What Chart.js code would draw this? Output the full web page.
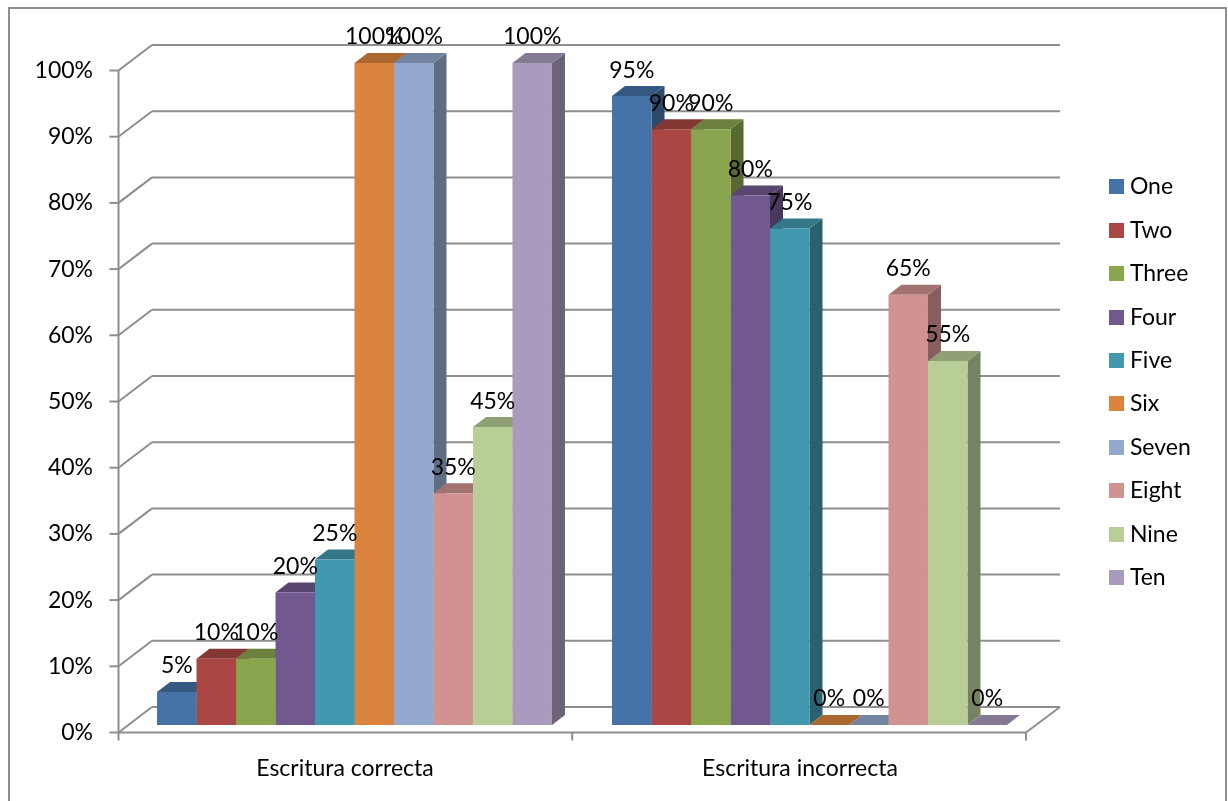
<!DOCTYPE html>
<html>
<head>
<meta charset="utf-8">
<title>Escritura</title>
<script src="https://cdn.jsdelivr.net/npm/chart.js@4/dist/chart.umd.min.js"></script>
<style>
    html, body { margin: 0; background: #fff; overflow: hidden; }
    canvas { display: block; }
</style>
</head>
<body>
<canvas id="myChart" width="1228" height="801"></canvas>
<script>
const categories = ["Escritura correcta", "Escritura incorrecta"]
const seriesNames = ["One", "Two", "Three", "Four", "Five", "Six", "Seven", "Eight", "Nine", "Ten"]
const colors = ["#4572A7", "#AA4643", "#89A54E", "#71588F", "#4198AF", "#DB843D", "#93A9CF", "#D19392", "#B9CD96", "#A99BBD"]
const correcta = [5, 10, 10, 20, 25, 100, 100, 35, 45, 100]
const incorrecta = [95, 90, 90, 80, 75, 0, 0, 65, 55, 0]

const fontName = "Lato, sans-serif"
const gridColor = "#8E8E8E"
const barDepth = {x: 13, y: 10}

// multiply a hex colour to get the shaded faces of the bars
const shade = (hex, k) => {
    const n = parseInt(hex.slice(1), 16)
    const part = (s) => Math.round(((n >> s) & 255) * k)
    return `rgb(${part(16)},${part(8)},${part(0)})`
}

const swatches = colors.map((c) => {
    const box = document.createElement("canvas")
    box.width = 15
    box.height = 15
    const g = box.getContext("2d")
    g.fillStyle = c
    g.fillRect(0, 0, 15, 15)
    return box
})

const line = (ctx, x1, y1, x2, y2) => {
    ctx.beginPath()
    ctx.moveTo(x1, y1)
    ctx.lineTo(x2, y2)
    ctx.stroke()
}

const quad = (ctx, pts, color) => {
    ctx.fillStyle = color
    ctx.beginPath()
    pts.forEach((p, i) => i ? ctx.lineTo(p[0], p[1]) : ctx.moveTo(p[0], p[1]))
    ctx.closePath()
    ctx.fill()
}

// frame, walls, floor and the depth faces of the bars
const box3d = {
    id: "box3d",
    afterLayout(chart) {
        const legend = chart.legend
        const w = legend.width, h = legend.height
        legend.left = 1094
        legend.right = 1094 + w
        legend.top = 155
        legend.bottom = 155 + h
    },
    beforeDatasetsDraw(chart) {
        const {ctx, chartArea: area, scales: {y}} = chart
        const frontL = area.left - 8.5, frontR = area.right - 11
        const backL = area.left + 25, backR = area.right + 23

        ctx.save()
        ctx.strokeStyle = gridColor
        ctx.lineWidth = 2
        ctx.strokeRect(9, 8, 1217, 820)

        y.ticks.forEach((t) => {
            const front = y.getPixelForValue(t.value) + 7.5
            const back = y.getPixelForValue(t.value) - 18
            line(ctx, frontL - 9, front, frontL, front)
            line(ctx, frontL, front, backL, back)
            line(ctx, backL, back, backR, back)
        })
        const floorF = y.getPixelForValue(0) + 7.5, floorB = y.getPixelForValue(0) - 18
        line(ctx, frontL, y.getPixelForValue(100) + 7.5, frontL, floorF + 8)
        line(ctx, frontL, floorF, frontR, floorF)
        line(ctx, frontR, floorF, backR, floorB)
        line(ctx, frontR, floorF, frontR, floorF + 8)
        line(ctx, (frontL + frontR) / 2, floorF, (frontL + frontR) / 2, floorF + 8)

        const {x: dx, y: dy} = barDepth
        categories.forEach((_, c) => {
            chart.data.datasets.forEach((d, i) => {
                const bar = chart.getDatasetMeta(i).data[c]
                const l = bar.x - bar.width / 2, r = bar.x + bar.width / 2
                const top = bar.y, base = bar.base
                quad(ctx, [[r, top], [r + dx, top - dy], [r + dx, base - dy], [r, base]], shade(colors[i], 0.64))
                quad(ctx, [[l, top], [l + dx, top - dy], [r + dx, top - dy], [r, top]], shade(colors[i], 0.78))
            })
        })
        ctx.restore()
    },
    afterDatasetsDraw(chart) {
        const {ctx} = chart
        ctx.save()
        ctx.font = "23px " + fontName
        ctx.fillStyle = "#000"
        ctx.textAlign = "center"
        ctx.textBaseline = "middle"
        chart.data.datasets.forEach((d, i) => {
            chart.getDatasetMeta(i).data.forEach((bar, c) => {
                ctx.fillText(d.data[c] + "%", bar.x, bar.y - 26)
            })
        })
        ctx.restore()
    }
}

const myChart = new Chart(document.getElementById("myChart"), {
    type: "bar",
    data: {
        labels: categories,
        datasets: seriesNames.map((name, i) => ({
            label: name,
            data: [correcta[i], incorrecta[i]],
            backgroundColor: colors[i],
            categoryPercentage: 0.868,
            barPercentage: 1
        }))
    },
    options: {
        responsive: false,
        animation: false,
        layout: {padding: {top: 63, right: 191, left: 0, bottom: 0}},
        scales: {
            x: {
                grid: {display: false, drawTicks: false},
                border: {display: false},
                afterFit: (axis) => { axis.height = 76 },
                ticks: {
                    color: "#000",
                    font: {family: fontName, size: 23},
                    padding: 30,
                    labelOffset: -9.5,
                    maxRotation: 0
                }
            },
            y: {
                min: 0,
                max: 100,
                grid: {display: false, drawTicks: false},
                border: {display: false},
                afterFit: (axis) => { axis.width = 127 },
                ticks: {
                    stepSize: 10,
                    color: "#000",
                    font: {family: fontName, size: 23},
                    padding: 34,
                    labelOffset: 7.5,
                    callback: (v) => v + "%"
                }
            }
        },
        plugins: {
            tooltip: {enabled: false},
            legend: {
                position: "chartArea",
                align: "start",
                labels: {
                    usePointStyle: true,
                    boxWidth: 4,
                    pointStyleWidth: 4,
                    padding: 20.4,
                    color: "#000",
                    font: {family: fontName, size: 23},
                    generateLabels: () => seriesNames.map((name, i) => ({
                        text: name,
                        pointStyle: swatches[i],
                        datasetIndex: i,
                        fontColor: "#000",
                        lineWidth: 0
                    }))
                }
            }
        }
    },
    plugins: [box3d]
})
</script>
</body>
</html>
